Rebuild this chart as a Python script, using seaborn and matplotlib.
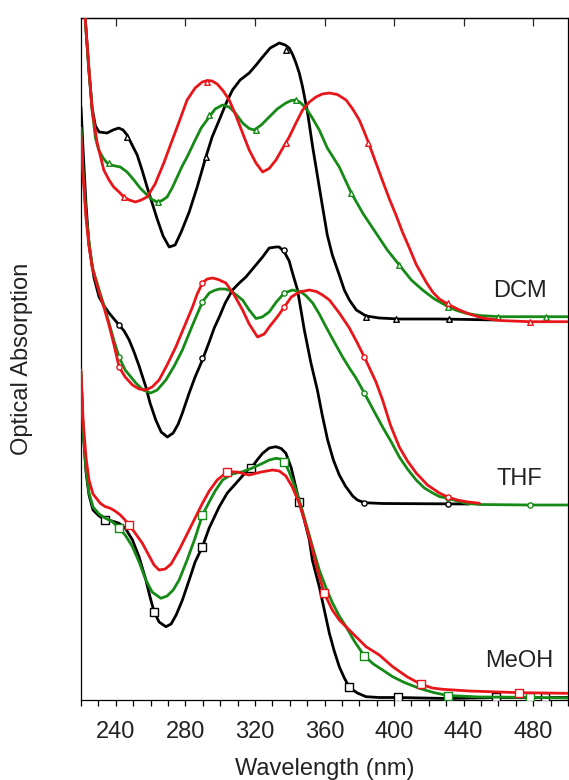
import matplotlib
matplotlib.use("Agg")
import matplotlib.pyplot as plt
import seaborn as sns
import numpy as np
from matplotlib.ticker import MultipleLocator

# ---------------- data (wavelength in nm, stacked absorption in a.u.) ----------------
dcm_black_x = [220, 222.5, 224.5, 226.4, 228.3, 230.4, 235, 238.4, 241.7, 244.2, 246.5, 249.4, 252.3, 255.1, 258,
               260.9, 263.8, 267.2, 270.7, 274.1, 277.6, 282.2, 286.8, 291.8, 295.4, 299.5, 303.5, 307.1, 311.5, 316.7,
               320.7, 324.4, 328.8, 334, 337.4, 339.7, 341.8, 343.6, 345.5, 347.4, 350.3, 353.2, 355.1, 358.7, 361.6,
               364.5, 368.5, 371.4, 374.3, 378.3, 383.9, 391.5, 403, 426, 443.3, 458.9]
dcm_black_y = [7.60, 6.80, 6.30, 5.92, 5.74, 5.68, 5.67, 5.70, 5.72, 5.70, 5.65, 5.55, 5.45, 5.30, 5.13,
               4.97, 4.81, 4.64, 4.53, 4.55, 4.68, 4.88, 5.13, 5.43, 5.63, 5.80, 5.97, 6.10, 6.20, 6.27,
               6.35, 6.43, 6.52, 6.57, 6.55, 6.52, 6.45, 6.37, 6.27, 6.13, 5.87, 5.53, 5.33, 4.95, 4.65,
               4.45, 4.25, 4.10, 4.00, 3.90, 3.84, 3.82, 3.81, 3.81, 3.805, 3.80]

dcm_red_x = [220, 222.5, 224.5, 226.4, 229.3, 233.1, 236.1, 238.8, 241.9, 244.6, 247.7, 251.3, 254.6, 258, 262.6,
             267.6, 271.2, 275.3, 281, 285.6, 289.7, 292.7, 295.4, 298.3, 301.8, 305.2, 308.7, 312.9, 316.7, 320.6,
             324.4, 328.2, 332.1, 335.7, 339.7, 343.6, 347.4, 351.3, 355.1, 358.7, 362.8, 367.4, 372.4, 376.2, 380,
             382.9, 385.8, 389.6, 393.4, 397.3, 401.1, 404.8, 408.8, 412.6, 418.4, 422.2, 426, 431.8, 437.6, 443.3,
             450.8, 460.6, 477.9, 500]
dcm_red_y = [7.40, 6.80, 6.33, 5.90, 5.57, 5.30, 5.20, 5.13, 5.08, 5.03, 5.00, 4.98, 5.00, 5.03, 5.16,
             5.37, 5.54, 5.73, 6.00, 6.12, 6.18, 6.195, 6.19, 6.16, 6.09, 6.00, 5.86, 5.67, 5.50, 5.37,
             5.28, 5.315, 5.40, 5.51, 5.63, 5.77, 5.90, 5.98, 6.03, 6.06, 6.07, 6.055, 6.00, 5.91, 5.80,
             5.68, 5.55, 5.37, 5.19, 5.01, 4.85, 4.68, 4.52, 4.36, 4.18, 4.08, 4.01, 3.95, 3.90, 3.86,
             3.82, 3.795, 3.783, 3.783]

dcm_green_x = [220, 222.5, 224.5, 226.4, 228.3, 230.2, 232.7, 235, 238.4, 242.6, 246.5, 250.4, 254, 258, 260.9,
               263.8, 266.6, 269.5, 272.4, 275.3, 278.2, 281, 285.1, 289.1, 293.7, 297.1, 301.4, 305.2, 308.7, 312.9,
               316.7, 319.6, 323.6, 328.2, 332.8, 337.8, 340.9, 343.6, 346.1, 349.3, 353, 357, 361.6, 368.5, 375.4,
               382.3, 389.6, 396.1, 403, 409.9, 416.4, 423.2, 429.9, 435.3, 441.4, 449.1, 460.6, 500]
dcm_green_y = [7.35, 6.78, 6.32, 5.90, 5.62, 5.50, 5.42, 5.37, 5.345, 5.33, 5.28, 5.20, 5.12, 5.05, 5.005,
               4.98, 4.995, 5.03, 5.12, 5.23, 5.34, 5.43, 5.58, 5.72, 5.83, 5.91, 5.95, 5.93, 5.87, 5.77,
               5.715, 5.70, 5.75, 5.83, 5.91, 5.97, 5.995, 6.00, 5.975, 5.92, 5.82, 5.70, 5.52, 5.33, 5.07,
               4.86, 4.67, 4.50, 4.35, 4.20, 4.10, 4.01, 3.945, 3.90, 3.867, 3.845, 3.833, 3.833]

thf_black_x = [220, 221.2, 222.9, 224.6, 227.5, 230.4, 233.3, 236.1, 239, 241.9, 244.8, 247.7, 250.5, 253.4, 257.3,
               259.7, 263, 266.1, 269.7, 273, 275.9, 278.3, 282.2, 285.6, 289.8, 293.7, 296.6, 299.5, 302.9, 307.1,
               311, 314.8, 319.6, 324.4, 328.2, 332.1, 334, 336.9, 339.7, 341.6, 344.5, 348.4, 352.2, 355.9, 358.7,
               361.8, 365.1, 368.5, 372, 376.2, 378.9, 382.9, 393.3, 443.3]
thf_black_y = [5.93, 5.50, 4.95, 4.55, 4.22, 4.03, 3.94, 3.87, 3.81, 3.75, 3.69, 3.60, 3.48, 3.34, 3.13,
               2.97, 2.80, 2.68, 2.63, 2.67, 2.76, 2.87, 3.07, 3.23, 3.40, 3.58, 3.72, 3.83, 3.97, 4.10,
               4.17, 4.23, 4.33, 4.43, 4.52, 4.53, 4.53, 4.48, 4.39, 4.27, 4.10, 3.70, 3.37, 3.10, 2.85,
               2.60, 2.40, 2.25, 2.14, 2.04, 2.00, 1.973, 1.965, 1.96]

thf_red_x = [220, 221.2, 222.9, 224.5, 226.5, 230.4, 233.3, 236.1, 239, 241.9, 245.4, 249.6, 253.4, 257.3, 260.9,
             264.9, 269.5, 274.5, 279.3, 284.1, 286.8, 289.8, 292.5, 295.6, 298.9, 303.3, 308.1, 312.9, 316.7, 321.5,
             325.4, 328.2, 332.8, 336.9, 340.9, 345.5, 351.3, 355.3, 358.9, 362.8, 368.5, 374.3, 378.9, 382.9, 389.6,
             393.4, 397.9, 403, 407.7, 412.7, 419.2, 426, 430.8, 436.4, 441.4, 449.1]
thf_red_y = [5.65, 5.25, 4.82, 4.55, 4.32, 4.08, 3.92, 3.75, 3.55, 3.33, 3.23, 3.15, 3.11, 3.10, 3.13,
             3.20, 3.35, 3.53, 3.73, 3.93, 4.06, 4.17, 4.21, 4.22, 4.205, 4.17, 4.05, 3.90, 3.76, 3.63,
             3.66, 3.73, 3.83, 3.93, 4.03, 4.08, 4.10, 4.085, 4.05, 4.00, 3.87, 3.72, 3.57, 3.43, 3.18,
             3.00, 2.75, 2.53, 2.39, 2.27, 2.15, 2.07, 2.03, 2.00, 1.983, 1.967]

thf_green_x = [220, 221.2, 222.9, 224.5, 226.5, 230.4, 233.3, 236.1, 239, 241.9, 245.4, 251.5, 255.7, 260.1, 263.8,
               268.8, 273.6, 278.3, 283.9, 289.8, 293.7, 296.6, 299.5, 302.9, 306.4, 312.9, 316.7, 320.6, 324.2, 328.2,
               332.3, 336.9, 341.6, 346.5, 349.5, 353.2, 357, 360.9, 365.6, 370.4, 374.3, 378.1, 382.9, 388.1, 393.4,
               398.4, 403, 407.7, 412.7, 417.4, 422.2, 426, 430.8, 436.4, 441.4, 449.1, 477.9, 500]
thf_green_y = [5.72, 5.30, 4.85, 4.60, 4.33, 4.10, 3.94, 3.77, 3.59, 3.43, 3.30, 3.17, 3.10, 3.07, 3.10,
               3.20, 3.34, 3.50, 3.74, 3.98, 4.07, 4.095, 4.11, 4.11, 4.09, 4.00, 3.90, 3.815, 3.83, 3.88,
               3.98, 4.07, 4.10, 4.08, 4.04, 3.97, 3.86, 3.73, 3.58, 3.43, 3.32, 3.22, 3.07, 2.90, 2.73,
               2.58, 2.43, 2.31, 2.20, 2.12, 2.07, 2.035, 2.017, 1.99, 1.967, 1.955, 1.95, 1.95]

meoh_black_x = [220, 221.2, 222.9, 224.6, 226.9, 230.4, 234.2, 237.9, 241.9, 245.4, 249.6, 253.4, 257.3, 259.7, 262,
                264.9, 268.8, 271.8, 274.7, 278.3, 282.2, 285.6, 289.8, 293.7, 299.5, 304.1, 309.1, 313.3, 317.7, 321.3,
                324.4, 328.2, 332.1, 335.1, 337.8, 340.9, 343.2, 345.5, 348.4, 351.3, 353, 357, 359.9, 362.8, 365.6,
                368.5, 371.4, 374.3, 378.9, 383.9, 391.5, 402, 430.8, 458.7, 487, 500]
meoh_black_y = [3.25, 2.70, 2.28, 2.05, 1.90, 1.84, 1.80, 1.79, 1.767, 1.72, 1.60, 1.43, 1.20, 1.03, 0.883,
                0.78, 0.733, 0.76, 0.85, 1.00, 1.20, 1.38, 1.533, 1.72, 1.933, 2.07, 2.167, 2.25, 2.317, 2.40,
                2.467, 2.52, 2.533, 2.515, 2.467, 2.32, 2.15, 1.983, 1.80, 1.60, 1.40, 1.133, 0.90, 0.667, 0.49,
                0.333, 0.22, 0.125, 0.07, 0.033, 0.025, 0.025, 0.015, 0.025, 0.025, 0.025]

meoh_green_x = [220, 221.2, 222.9, 224.6, 226.9, 230.4, 233.8, 237.9, 241.9, 245.4, 249.6, 253.4, 257.3, 260.9, 265.9,
                269.5, 273, 276.4, 281, 285.6, 289.8, 293.7, 297.1, 301.4, 306.9, 312.9, 317.9, 324.4, 328.2, 332.1,
                334.6, 336.9, 339.7, 343.6, 346.5, 349.3, 353, 357, 360.9, 364.7, 368.5, 372.4, 377.1, 382.9, 388.1,
                393.4, 399.2, 405.9, 414.5, 422.6, 430.8, 449.1, 477.9, 500]
meoh_green_y = [3.28, 2.70, 2.30, 2.07, 1.93, 1.86, 1.82, 1.785, 1.717, 1.65, 1.533, 1.38, 1.20, 1.08, 1.017,
                1.04, 1.10, 1.20, 1.40, 1.62, 1.85, 1.98, 2.09, 2.20, 2.26, 2.283, 2.315, 2.367, 2.40, 2.417,
                2.41, 2.383, 2.28, 2.10, 1.94, 1.767, 1.54, 1.30, 1.12, 0.967, 0.84, 0.733, 0.59, 0.44, 0.36,
                0.30, 0.233, 0.175, 0.117, 0.075, 0.045, 0.03, 0.027, 0.02]

meoh_red_x = [220, 221.2, 222.9, 224.6, 226.9, 231.1, 233.8, 236.9, 239.6, 242.6, 244.8, 247.7, 251.1, 255.3, 259.2,
              262, 264.9, 268.4, 271.8, 276.4, 281, 285.6, 289.8, 293.7, 298.3, 304.2, 309.8, 316.7, 323.6, 330.1,
              334, 337.8, 341.5, 345.5, 348.4, 352.2, 355.9, 359.9, 364.5, 368.5, 373.1, 378.1, 383.9, 391.5, 399.2,
              407.7, 415.5, 422, 428, 443.3, 472.1, 500]
meoh_red_y = [3.30, 2.80, 2.42, 2.20, 2.06, 1.967, 1.935, 1.917, 1.89, 1.85, 1.81, 1.75, 1.67, 1.567, 1.44,
              1.35, 1.30, 1.31, 1.36, 1.50, 1.66, 1.82, 1.967, 2.09, 2.20, 2.283, 2.28, 2.25, 2.28, 2.30,
              2.29, 2.24, 2.13, 1.967, 1.80, 1.567, 1.30, 1.067, 0.90, 0.80, 0.72, 0.633, 0.533, 0.45, 0.333,
              0.23, 0.157, 0.12, 0.107, 0.09, 0.073, 0.067]

# sparse open markers on the curves
dcm_black_mx = [246.5, 291.8, 337.8, 383.9, 401.2, 431.8]
dcm_black_my = [5.63, 5.43, 6.50, 3.83, 3.81, 3.81]
dcm_red_mx = [244.8, 292.7, 337.8, 384.8, 430.8, 477.9]
dcm_red_my = [5.03, 6.18, 5.57, 5.57, 3.97, 3.785]
dcm_green_mx = [236.1, 264, 293.7, 320.6, 343.6, 375.3, 403, 430.8, 459.6, 487.5]
dcm_green_my = [5.37, 4.98, 5.85, 5.70, 6.00, 5.07, 4.35, 3.93, 3.83, 3.83]

thf_black_mx = [242, 289.8, 336.9, 382.9, 430.9]
thf_black_my = [3.75, 3.42, 4.50, 1.97, 1.96]
thf_red_mx = [242, 289.8, 336.9, 382.9, 430.9]
thf_red_my = [3.33, 4.17, 3.93, 3.43, 2.03]
thf_green_mx = [242, 289.8, 336.9, 382.9, 430.9, 477.9]
thf_green_my = [3.43, 3.98, 4.07, 3.07, 2.02, 1.95]

meoh_black_mx = [234, 262, 289.8, 317.7, 345.5, 374.3, 402, 430.9, 458.7, 487]
meoh_black_my = [1.80, 0.88, 1.53, 2.32, 1.98, 0.13, 0.03, 0.015, 0.03, 0.03]
meoh_green_mx = [242, 289.8, 336.9, 382.9, 430.9, 477.9]
meoh_green_my = [1.72, 1.85, 2.38, 0.44, 0.045, 0.03]
meoh_red_mx = [247.7, 304.2, 359.9, 415.5, 472]
meoh_red_my = [1.75, 2.28, 1.07, 0.16, 0.073]

solvents = ["DCM", "THF", "MeOH"]
solvent_label_x = [472.2, 472.2, 472.2]
solvent_label_y = [4.03, 2.15, 0.33]
x_major_ticks = [240, 280, 320, 360, 400, 440, 480]

# ---------------- style ----------------
sns.set_theme(style="ticks")
plt.rcParams["font.family"] = ["Liberation Sans", "DejaVu Sans"]
plt.rcParams["axes.linewidth"] = 0.9

BLACK = "#000000"
RED = "#e8161b"
GREEN = "#168a16"
TXT = "#222222"

fig = plt.figure(figsize=(5.69, 7.80), dpi=100)
ax = fig.add_axes([81 / 569, 80 / 780, 487 / 569, 682 / 780])

groups = [
    ("^", 16, [(dcm_black_x, dcm_black_y, dcm_black_mx, dcm_black_my, BLACK),
               (dcm_green_x, dcm_green_y, dcm_green_mx, dcm_green_my, GREEN),
               (dcm_red_x, dcm_red_y, dcm_red_mx, dcm_red_my, RED)]),
    ("o", 14, [(thf_black_x, thf_black_y, thf_black_mx, thf_black_my, BLACK),
               (thf_green_x, thf_green_y, thf_green_mx, thf_green_my, GREEN),
               (thf_red_x, thf_red_y, thf_red_mx, thf_red_my, RED)]),
    ("s", 34, [(meoh_black_x, meoh_black_y, meoh_black_mx, meoh_black_my, BLACK),
               (meoh_green_x, meoh_green_y, meoh_green_mx, meoh_green_my, GREEN),
               (meoh_red_x, meoh_red_y, meoh_red_mx, meoh_red_my, RED)]),
]

z = 2
for marker, msize, curves in groups:
    for xs, ys, mxs, mys, col in curves:
        sns.lineplot(x=np.array(xs), y=np.array(ys), color=col, linewidth=2.0,
                     sort=False, estimator=None, ax=ax, zorder=z)
        sns.scatterplot(x=np.array(mxs), y=np.array(mys), marker=marker, s=msize,
                        color="white", edgecolor=col, linewidth=1.0, ax=ax, zorder=z + 0.5)
        z += 1

for name, tx, ty in zip(solvents, solvent_label_x, solvent_label_y):
    ax.text(tx, ty, name, ha="center", va="baseline", fontsize=17, color=TXT)

ax.set_xlim(220, 500)
ax.set_ylim(0, 6.82)

ax.xaxis.set_major_locator(MultipleLocator(40))
ax.set_xticks(x_major_ticks)
ax.xaxis.set_minor_locator(MultipleLocator(10))
ax.tick_params(axis="x", which="both", direction="out", length=4.5, width=0.9,
               labelsize=17, pad=10.5, colors="black", labelcolor=TXT, bottom=True, top=False)
ax.set_yticks([])

for sp in ax.spines.values():
    sp.set_visible(True)
    sp.set_color("black")
    sp.set_linewidth(0.9)

secax = ax.secondary_xaxis("top")
secax.set_xticks(x_major_ticks)
secax.tick_params(axis="x", direction="in", length=6, width=0.9, labeltop=False)
secax.spines["top"].set_linewidth(0.9)

ax.set_xlabel("Wavelength (nm)", fontsize=17, color=TXT)
ax.xaxis.label.set_va("baseline")
ax.xaxis.set_label_coords(0.5, -75 / 682)
ax.set_ylabel("Optical Absorption", fontsize=17, color=TXT)
ax.yaxis.label.set_va("center")
ax.yaxis.set_label_coords(-59 / 487, (359 - 18) / 682 * 0 + 0.5 + (359 - 359) / 682)

fig.savefig("out.png", dpi=100)
